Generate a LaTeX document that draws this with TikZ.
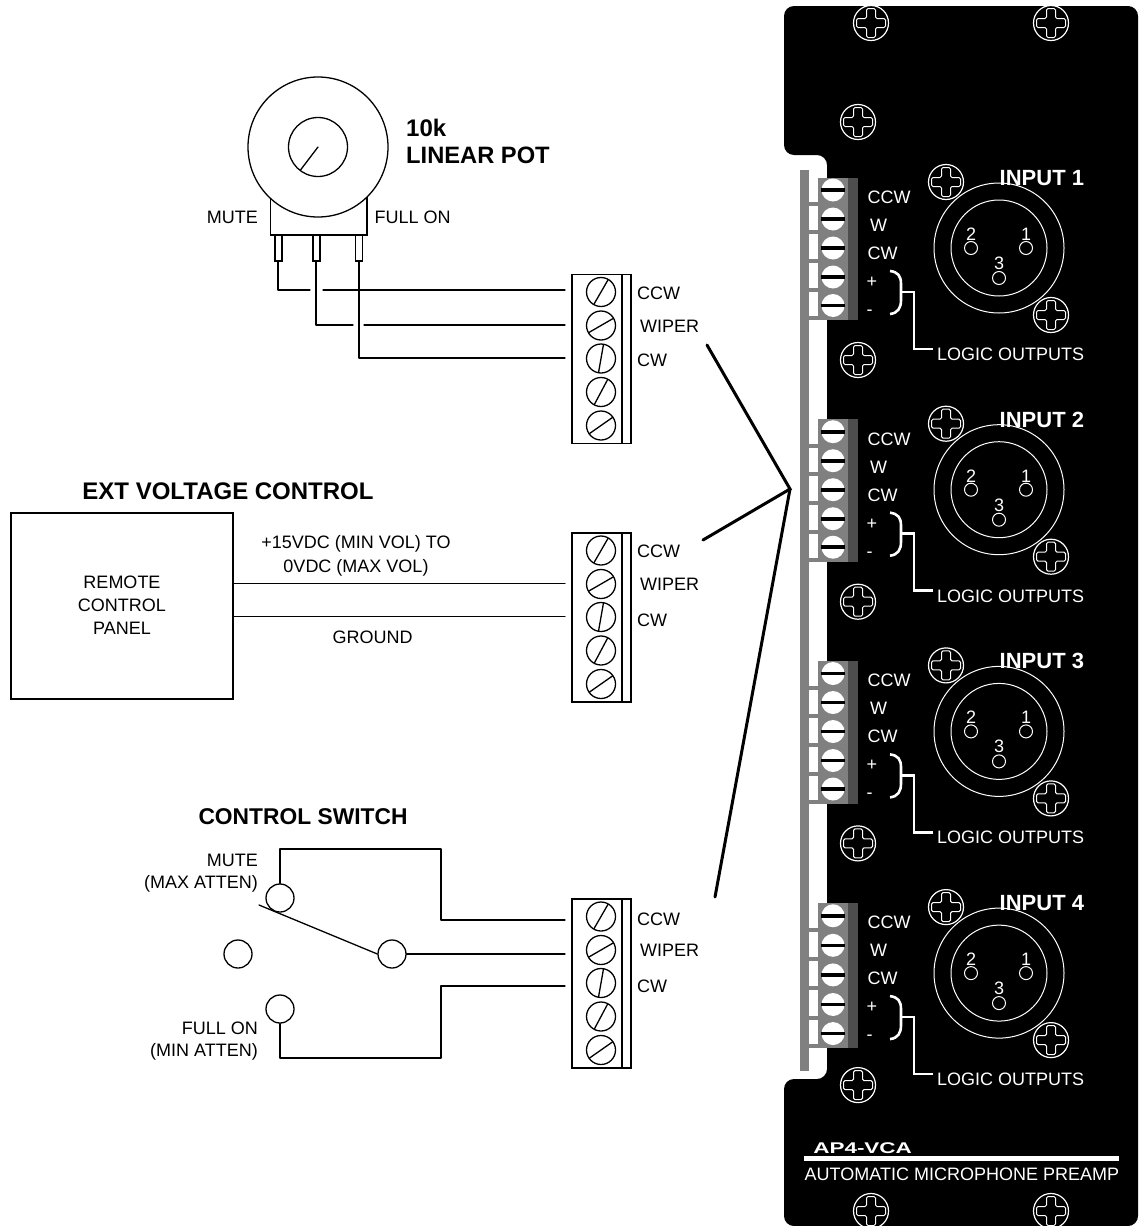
\documentclass[tikz,border=0pt]{standalone}
\usepackage{fontspec}
\setmainfont{Liberation Sans}
\definecolor{blockgray}{HTML}{808080}
\definecolor{blockdark}{HTML}{4D4D4D}
\tikzset{
 x=1pt,y=-1pt,
 wire/.style={line width=1.3pt,line cap=round,line join=round},
 thickwire/.style={line width=3pt,line cap=round,line join=miter},
 lab/.style={inner sep=0pt,font=\fontsize{18}{23}\selectfont,text height=13pt,text depth=0pt},
 titlelab/.style={inner sep=0pt,font=\fontsize{24}{27}\selectfont\bfseries,text height=17pt,text depth=0pt},
 wlab/.style={lab,text=white},
 wtitle/.style={titlelab,text=white,font=\fontsize{22}{27}\selectfont\bfseries},
 round pin/.style={circle,draw,fill=white,line width=1.3pt,minimum size=28pt,inner sep=0pt},
 pics/panelscrew/.style={code={
   \path[draw=white,fill=black,line width=1.2pt] (0,0) circle (17.5);
   \path[draw=white,fill=black,line width=1pt,rounded corners=1.5pt]
     (-4.5,-14.5)--(4.5,-14.5)--(4.5,-4.5)--(14.5,-4.5)--(14.5,4.5)--(4.5,4.5)--(4.5,14.5)--(-4.5,14.5)--(-4.5,4.5)--(-14.5,4.5)--(-14.5,-4.5)--(-4.5,-4.5)--cycle;
 }},
 pics/whitescrew/.style={code={
   \fill[white] (0,0) circle (11.5);
   \fill[black] (-12,-1.8) rectangle (12,1.8);
 }},
 pics/tscrew/.style={code={
   \draw[line width=1.3pt,fill=white] (0,0) circle (14.5);
   \draw[line width=1.3pt] (-#1:14.5) -- (180-#1:14.5);
 }},
 pics/termblock/.style={code={
   \draw[line width=1.3pt,fill=white] (0,0) rectangle (59,169);
   \draw[line width=1.3pt] (50,0) -- (50,169);
   \pic at (29,17.5) {tscrew=60};
   \pic at (29,51) {tscrew=30};
   \pic at (29,84) {tscrew=80};
   \pic at (29,117.5) {tscrew=62};
   \pic at (29,151) {tscrew=35};
 }},
 pics/strip/.style={code={
   \fill[blockgray] (818,0) rectangle (848,142.5);
   \fill[blockdark] (848,0) rectangle (858,142.5);
   \foreach \ty in {24.5,52.5,81.5,110.5,138.5}{\fill[blockgray] (809,\ty) rectangle (818,\ty+4);}
   \foreach \sy in {12.5,41.5,70.5,99.5,128}{\pic at (833,\sy) {whitescrew};}
 }},
 pics/channel/.style={code={
   \draw[white,line width=1pt] (999,248) circle (65);
   \draw[white,line width=1pt] (999,248) circle (48);
   \draw[white,line width=1pt] (971,248) circle (6.5);
   \draw[white,line width=1pt] (1026,248) circle (6.5);
   \draw[white,line width=1pt] (999,278) circle (6.5);
   \pic at (946,182) {panelscrew};
   \pic at (1051,315) {panelscrew};
   \pic at (858,360) {panelscrew};
   \node[wlab,anchor=west] at (867.5,197) {CCW};
   \node[wlab,anchor=west] at (870,225) {W};
   \node[wlab,anchor=west] at (867.5,253) {CW};
   \node[wlab,anchor=west] at (866.5,281) {+};
   \node[wlab,anchor=west] at (866.5,309) {-};
   \node[wlab] at (971,234) {2};
   \node[wlab] at (1026,234) {1};
   \node[wlab] at (999,263) {3};
   \node[wtitle,anchor=west] at (999.5,177) {#1};
   \draw[white,line width=2.6pt] (890,271) .. controls (898,272) and (901,276) .. (901,284) -- (901,300) .. controls (901,308) and (898,313) .. (890,314);
   \draw[white,line width=2.6pt] (901,292) -- (914,292) -- (914,349) -- (933,349);
   \node[wlab,anchor=west] at (937,354) {LOGIC OUTPUTS};
 }},
}
\begin{document}
\begin{tikzpicture}
\useasboundingbox (0,0) rectangle (1138,1226);
% panel
\fill[black,rounded corners=10pt] (784,6) -- (1138,6) -- (1138,1226) -- (784,1226) -- (784,1079) -- (827,1079) -- (827,155) -- (784,155) -- cycle;
\fill[blockgray] (799.5,170) rectangle (809,1071);
\pic at (0,177.5) {strip};
\pic at (0,419.2) {strip};
\pic at (0,661) {strip};
\pic[yscale=1.02] at (0,903) {strip};
\pic at (0,0) {channel={INPUT 1}};
\pic at (0,241.7) {channel={INPUT 2}};
\pic at (0,483.4) {channel={INPUT 3}};
\pic at (0,725.1) {channel={INPUT 4}};
\foreach \sx/\sy in {871/23,1051/23,858/122,871/1211,1051/1211}{\pic at (\sx,\sy) {panelscrew};}
\node[inner sep=0pt,text=white,font=\fontsize{15.5}{18}\selectfont\bfseries,xscale=1.45,anchor=west,text height=11pt,text depth=0pt] (model) at (813,1148) {AP4-VCA};
\fill[white] (804,1156) rectangle (1119,1161);
\node[wlab,anchor=west] (desc) at (804.5,1174) {AUTOMATIC MICROPHONE PREAMP};
% pot
\draw[line width=1.3pt,fill=white] (270.5,195) rectangle (367,235);
\draw[line width=1.3pt,fill=white] (275,235) rectangle (282,261);
\draw[line width=1.3pt,fill=white] (313,235) rectangle (320,261);
\draw[line width=1.3pt,fill=white] (355.5,235) rectangle (362.5,261);
\node[circle,draw,fill=white,line width=1.3pt,minimum size=140pt,inner sep=0pt] (potbody) at (318,147) {};
\node[circle,draw,line width=1.3pt,minimum size=59pt,inner sep=0pt] (knob) at (318,147) {};
\coordinate (knobc) at (318,147);
\draw[wire] (knobc) -- (300.5,170);
\node[titlelab,anchor=west] (t10k) at (406,128) {10k};
\node[titlelab,anchor=west,font=\fontsize{23.7}{27}\selectfont\bfseries] (tlin) at (406,155) {LINEAR POT};
\node[lab,anchor=east] (tmute) at (258,217) {MUTE};
\node[lab,anchor=west] (tfull) at (374.5,217) {FULL ON};
% terminal blocks
\pic at (572,274.5) {termblock};
\pic at (572,533) {termblock};
\pic at (572,899) {termblock};
\foreach \a/\b/\c in {293/326/360,551/584/620,919/950/986}{
 \node[lab,anchor=west] at (637,\a) {CCW};
 \node[lab,anchor=west] at (640,\b) {WIPER};
 \node[lab,anchor=west] at (637,\c) {CW};
}
% pot wiring
\coordinate (p1) at (278,261); \coordinate (p1b) at (278,290); \coordinate (p1g) at (310,290); \coordinate (p1h) at (323,290); \coordinate (t1) at (565,290);
\coordinate (p2) at (316,261); \coordinate (p2b) at (316,325); \coordinate (p2g) at (353,325); \coordinate (p2h) at (364,325); \coordinate (t2) at (565,325);
\coordinate (p3) at (359,261); \coordinate (p3b) at (359,358); \coordinate (t3) at (565,358);
\draw[wire] (p1) -- (p1b) -- (p1g) (p1h) -- (t1);
\draw[wire] (p2) -- (p2b) -- (p2g) (p2h) -- (t2);
\draw[wire] (p3) -- (p3b) -- (t3);
% remote
\node[draw,line width=1.3pt,minimum width=222pt,minimum height=186pt,inner sep=0pt] (remote) at (122,606) {};
\node[lab,text height=,text depth=,align=center] (remotetxt) at (122,605) {REMOTE\\CONTROL\\PANEL};
\node[titlelab,anchor=center] (extt) at (228,491) {EXT VOLTAGE CONTROL};
\node[lab,text height=,text depth=,font=\fontsize{18}{24}\selectfont,align=center] (vtxt) at (356,556) {+15VDC (MIN VOL) TO\\0VDC (MAX VOL)};
\node[lab] (gnd) at (372.5,637) {GROUND};
\coordinate (r1) at (233,583.5); \coordinate (r1t) at (565,583.5);
\coordinate (r2) at (233,616.5); \coordinate (r2t) at (565,616.5);
\draw[wire] (r1) -- (r1t);
\draw[wire] (r2) -- (r2t);
% switch
\node[titlelab,font=\fontsize{22.8}{27}\selectfont\bfseries] (swt) at (303,816) {CONTROL SWITCH};
\node[round pin] (sa) at (280,898) {};
\node[round pin] (sb) at (238,954) {};
\node[round pin] (sc) at (392,954) {};
\node[round pin] (sd) at (280,1009) {};
\coordinate (lever) at (259,905);
\coordinate (w1) at (280,849); \coordinate (w2) at (441,849); \coordinate (w3) at (441,920); \coordinate (w4) at (565,920);
\coordinate (x1) at (280,1058); \coordinate (x2) at (441,1058); \coordinate (x3) at (441,986); \coordinate (x4) at (565,986);
\coordinate (y1) at (565,954);
\draw[wire] (sa) -- (w1) -- (w2) -- (w3) -- (w4);
\draw[wire] (sd) -- (x1) -- (x2) -- (x3) -- (x4);
\draw[wire] (sc) -- (y1);
\draw[wire] (lever) -- (sc.west);
\node[lab,anchor=east,text height=,text depth=,font=\fontsize{18}{22}\selectfont,align=right] (mtxt) at (258,873) {MUTE\\(MAX ATTEN)};
\node[lab,anchor=east,text height=,text depth=,font=\fontsize{18}{22}\selectfont,align=right] (ftxt) at (258,1041) {FULL ON\\(MIN ATTEN)};
% thick leader lines
\coordinate (hub) at (790,489);
\coordinate (la) at (707,345); \coordinate (lb) at (703,540); \coordinate (lc) at (715,897);
\draw[thickwire] (la) -- (hub) -- (lb);
\draw[thickwire] (hub) -- (lc);
\end{tikzpicture}
\end{document}
